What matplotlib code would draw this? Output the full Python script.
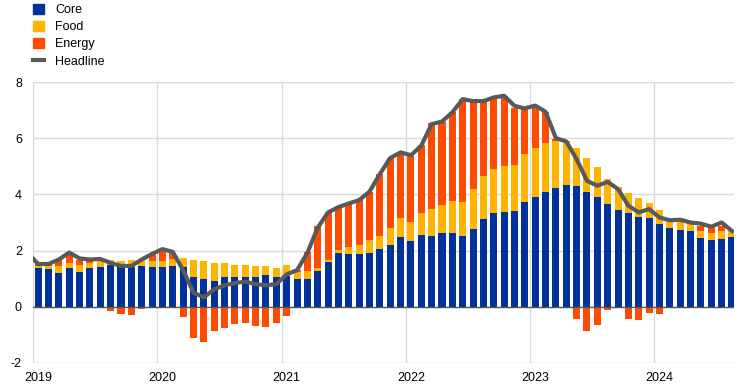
import matplotlib.pyplot as plt
from matplotlib.patches import Patch
from matplotlib.lines import Line2D
import numpy as np

plt.rcParams['font.family'] = ['Liberation Sans', 'DejaVu Sans']
plt.rcParams['axes.unicode_minus'] = False

# monthly contributions, Jan 2019 - Aug 2024
core = [1.37, 1.33, 1.21, 1.37, 1.25, 1.39, 1.43, 1.48, 1.43, 1.42, 1.46, 1.43,
        1.43, 1.46, 1.43, 1.07, 1.00, 0.93, 1.07, 1.04, 1.07, 1.04, 1.11, 1.04,
        1.10, 0.98, 0.98, 1.26, 1.58, 1.90, 1.87, 1.87, 1.90, 2.05, 2.19, 2.48,
        2.33, 2.55, 2.51, 2.62, 2.62, 2.51, 2.76, 3.12, 3.33, 3.37, 3.40, 3.73,
        3.90, 4.08, 4.22, 4.32, 4.29, 4.08, 3.90, 3.65, 3.44, 3.33, 3.19, 3.15,
        2.93, 2.79, 2.75, 2.68, 2.43, 2.36, 2.40, 2.47]
food = [0.09, 0.11, 0.25, 0.17, 0.25, 0.18, 0.19, 0.19, 0.20, 0.26, 0.24, 0.21,
        0.21, 0.25, 0.32, 0.58, 0.61, 0.61, 0.47, 0.46, 0.43, 0.42, 0.35, 0.32,
        0.38, 0.25, 0.28, 0.11, 0.09, 0.11, 0.25, 0.32, 0.47, 0.46, 0.61, 0.67,
        0.68, 0.78, 0.97, 1.00, 1.14, 1.22, 1.43, 1.53, 1.57, 1.64, 1.65, 1.71,
        1.75, 1.75, 1.67, 1.55, 1.35, 1.21, 1.07, 0.89, 0.81, 0.71, 0.67, 0.56,
        0.50, 0.32, 0.31, 0.26, 0.28, 0.28, 0.29, 0.26]
energy = [0.06, 0.08, 0.24, 0.32, 0.17, 0.06, 0.03, -0.17, -0.25, -0.29, -0.10, 0.19,
          0.35, 0.21, -0.36, -1.13, -1.27, -0.88, -0.77, -0.63, -0.60, -0.70, -0.74, -0.60,
          -0.33, 0.08, 0.69, 1.49, 1.69, 1.50, 1.53, 1.61, 1.71, 2.22, 2.49, 2.32,
          2.37, 2.43, 3.06, 2.98, 3.17, 3.67, 3.13, 2.67, 2.56, 2.51, 2.05, 1.61,
          1.45, 1.10, 0.10, 0.03, -0.45, -0.87, -0.67, -0.13, -0.05, -0.45, -0.49, -0.24,
          -0.27, -0.06, 0.04, 0.05, 0.15, 0.15, 0.20, -0.03]
# headline starts in Dec 2018
headline = [1.90,
            1.52, 1.52, 1.68, 1.93, 1.72, 1.68, 1.70, 1.56, 1.45, 1.45, 1.68, 1.88,
            2.05, 1.95, 1.30, 0.50, 0.33, 0.62, 0.76, 0.84, 0.89, 0.80, 0.76, 0.80,
            1.15, 1.30, 1.92, 2.82, 3.36, 3.55, 3.68, 3.80, 4.10, 4.73, 5.30, 5.50,
            5.40, 5.74, 6.51, 6.60, 6.93, 7.40, 7.33, 7.33, 7.46, 7.52, 7.16, 7.07,
            7.17, 6.95, 6.01, 5.89, 5.26, 4.49, 4.31, 4.45, 4.19, 3.60, 3.36, 3.48,
            3.18, 3.08, 3.10, 3.00, 2.96, 2.85, 3.00, 2.70]
years = ['2019', '2020', '2021', '2022', '2023', '2024']

c_core = '#003299'
c_food = '#ffb400'
c_energy = '#ff4b00'
c_head = '#595959'

core = np.array(core)
food = np.array(food)
energy = np.array(energy)
x = np.arange(len(core)) + 0.5
xh = np.arange(-1, len(core)) + 0.5

fig = plt.figure(figsize=(7.42, 3.88), dpi=100)
ax = fig.add_axes([33/742, 1-362.7/388, (734-33)/742, (362.7-82.3)/388])

w = 0.68
ax.bar(x, core, w, color=c_core, zorder=2)
ax.bar(x, food, w, bottom=core, color=c_food, zorder=2)
ax.bar(x, energy, w, bottom=np.where(energy >= 0, core + food, 0), color=c_energy, zorder=2)
ax.plot(xh, headline, color=c_head, lw=3, solid_joinstyle='round', zorder=3)
ax.axhline(0, color='#555555', lw=1, zorder=2.5)

ax.set_xlim(0, 67.7)
ax.set_ylim(-2, 8)
ax.set_yticks(np.arange(-2, 9, 2))
ax.set_xticks(np.arange(0, 61, 12))
ax.set_xticklabels([])
ax.set_xticks(np.arange(0, 61, 12) + 0.5, minor=True)
ax.set_xticklabels(years, minor=True)
ax.grid(True, color='#d9d9d9', lw=1, zorder=0)
ax.set_axisbelow(True)
for s in ax.spines.values():
    s.set_visible(False)
ax.tick_params(axis='both', which='both', length=0, labelsize=9, colors='#000000')
ax.tick_params(axis='y', pad=8)
ax.tick_params(axis='x', which='minor', pad=7)

handles = [Patch(color=c_core), Patch(color=c_food), Patch(color=c_energy),
           Line2D([], [], color=c_head, lw=3)]
fig.legend(handles, ['Core', 'Food', 'Energy', 'Headline'], loc='upper left',
           bbox_to_anchor=(33/742, 1 - 3.5/388), frameon=False, fontsize=9,
           borderpad=0, borderaxespad=0, handlelength=0.9, handleheight=0.9,
           handletextpad=0.9, labelspacing=0.38)

fig.savefig('out.png', dpi=100)
